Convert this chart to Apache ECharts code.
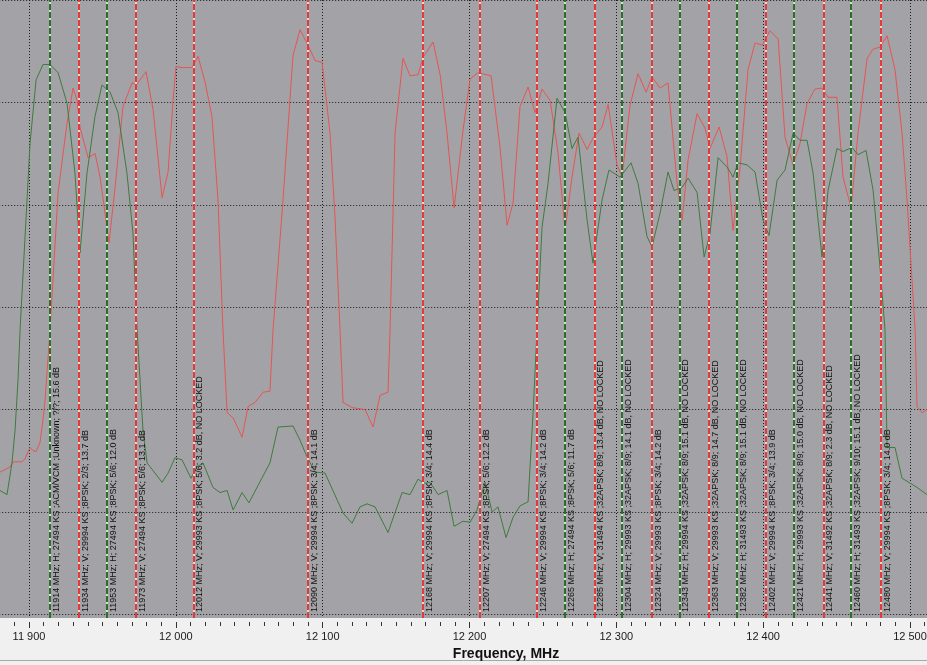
<!DOCTYPE html>
<html>
<head>
<meta charset="utf-8">
<script src="https://cdn.jsdelivr.net/npm/echarts@6/dist/echarts.min.js"></script>
<style>
html, body { margin: 0; padding: 0; background: #f0f0f0; }
#box { width: 927px; height: 665px; }
</style>
</head>
<body>
<div id="box"></div>
<script>
// V polarisation trace (red)
var vFreq = [11880.3,11887.1,11889.1,11895.2,11897.3,11900.7,11902.7,11904.8,11907.5,11909.5,11910.9,11914.3,11919.8,11925.9,11930.0,11932.7,11934.7,11940.2,11945.0,11948.4,11954.5,11958.6,11964.0,11970.2,11973.6,11979.7,11984.5,11990.6,11994.7,11998.1,12000.1,12004.2,12011.0,12015.1,12019.9,12024.6,12028.7,12032.1,12034.9,12039.0,12045.1,12049.2,12053.9,12059.4,12064.1,12066.2,12073.0,12079.8,12084.6,12089.3,12094.8,12099.6,12105.0,12108.4,12111.8,12113.9,12120.0,12128.9,12134.3,12139.1,12144.5,12145.9,12149.3,12154.7,12159.5,12164.9,12168.4,12175.2,12180.0,12184.7,12189.5,12195.6,12200.4,12205.8,12214.7,12220.8,12225.6,12229.7,12234.4,12239.9,12244.6,12249.4,12254.9,12260.3,12265.1,12269.8,12274.6,12280.1,12284.1,12290.3,12294.4,12300.5,12303.9,12309.3,12314.8,12320.3,12324.3,12329.8,12335.2,12341.4,12344.8,12348.9,12355.0,12360.4,12363.8,12370.0,12375.4,12379.5,12384.3,12389.7,12394.5,12399.3,12404.7,12410.2,12414.9,12420.4,12425.1,12429.9,12435.3,12440.1,12444.2,12450.3,12454.4,12459.9,12464.6,12470.8,12474.9,12479.6,12484.4,12489.8,12494.6,12498.0,12503.5,12504.8,12508.2,12511.6];
var vLevel = [-56.1,-55.6,-55.1,-55.1,-54.8,-53.7,-54.0,-54.1,-53.2,-51.0,-49.1,-42.2,-28.8,-22.0,-18.6,-19.8,-22.4,-25.4,-25.0,-27.3,-33.7,-28.3,-20.4,-18.1,-18.2,-17.0,-20.7,-29.3,-26.8,-19.8,-16.5,-16.6,-16.6,-15.5,-18.0,-21.4,-29.5,-42.2,-50.3,-50.8,-52.7,-49.7,-49.3,-48.3,-48.2,-42.2,-29.5,-15.4,-12.9,-14.2,-15.9,-16.1,-23.0,-31.2,-42.2,-49.3,-49.8,-50.0,-51.7,-48.6,-48.3,-42.2,-23.0,-15.7,-17.4,-17.3,-15.6,-14.1,-17.3,-23.0,-30.3,-22.7,-17.7,-17.1,-17.4,-24.4,-32.0,-29.8,-20.4,-18.5,-21.0,-18.7,-19.8,-24.9,-32.5,-27.3,-23.0,-24.6,-23.5,-22.4,-20.2,-26.1,-27.3,-20.3,-17.2,-19.0,-17.5,-18.6,-18.1,-27.9,-31.5,-25.6,-21.1,-22.5,-24.5,-22.4,-25.3,-32.5,-26.3,-16.8,-14.2,-14.4,-13.0,-13.8,-23.4,-26.1,-24.0,-20.1,-18.7,-18.6,-19.5,-19.5,-27.3,-30.3,-23.0,-15.7,-14.8,-14.6,-13.5,-16.8,-23.0,-29.5,-42.2,-49.7,-50.3,-50.0];

// H polarisation trace (green)
var hFreq = [11880.3,11885.0,11888.4,11890.5,11892.5,11893.9,11900.7,11904.8,11909.5,11914.3,11919.8,11925.9,11931.3,11934.7,11939.5,11944.9,11949.7,11955.2,11960.6,11966.7,11970.8,11973.6,11977.6,11980.4,11990.6,11994.7,11999.4,12004.2,12010.3,12014.4,12018.5,12025.3,12030.1,12034.9,12039.0,12045.1,12049.8,12056.0,12064.1,12069.6,12079.8,12084.6,12089.3,12094.8,12101.6,12113.9,12120.0,12125.4,12130.2,12135.7,12144.5,12154.1,12159.5,12164.9,12169.7,12173.1,12178.6,12184.7,12189.5,12195.6,12200.4,12205.1,12210.6,12215.4,12219.4,12224.9,12229.7,12234.4,12239.9,12243.3,12246.0,12249.4,12253.5,12259.6,12265.1,12269.8,12273.9,12280.1,12284.1,12290.3,12295.0,12302.5,12310.0,12314.8,12320.9,12324.3,12329.8,12335.2,12339.3,12344.8,12348.9,12355.0,12359.8,12363.8,12369.3,12375.4,12379.5,12382.9,12389.0,12394.5,12399.9,12404.0,12409.5,12414.9,12420.4,12425.1,12429.9,12434.0,12440.1,12444.2,12450.3,12454.4,12460.5,12464.6,12470.1,12474.9,12479.6,12483.0,12484.4,12489.8,12494.6,12504.8,12511.6];
var hLevel = [-57.9,-58.3,-55.2,-52.0,-47.1,-42.2,-24.0,-17.8,-16.3,-16.3,-17.1,-20.1,-26.9,-34.7,-26.9,-21.4,-18.3,-19.0,-21.0,-26.9,-32.8,-42.2,-52.0,-55.2,-57.1,-56.2,-54.7,-54.9,-56.7,-55.6,-55.2,-57.6,-58.1,-57.9,-59.8,-58.1,-59.1,-57.4,-55.2,-51.7,-51.6,-53.0,-54.6,-56.1,-56.2,-60.1,-61.1,-59.5,-59.2,-59.5,-62.0,-58.1,-58.3,-56.8,-57.2,-57.1,-58.3,-57.9,-61.4,-60.9,-61.0,-59.8,-57.1,-60.0,-59.5,-62.5,-60.5,-59.4,-59.0,-50.3,-42.2,-32.2,-27.9,-19.6,-21.0,-24.5,-23.4,-31.5,-35.7,-29.5,-26.6,-27.3,-25.9,-27.9,-33.1,-34.1,-30.8,-26.8,-28.6,-28.3,-27.4,-28.8,-35.1,-32.8,-25.4,-26.3,-27.3,-25.9,-26.1,-26.8,-31.5,-33.0,-27.6,-26.6,-23.0,-23.7,-23.7,-26.9,-35.1,-28.6,-24.5,-24.8,-24.4,-25.1,-24.7,-28.6,-36.1,-42.2,-53.7,-53.7,-56.7,-57.6,-58.3];

// transponder markers
var markFreq = [11914,11934,11953,11973,12012,12090,12168,12207,12246,12265,12285,12304,12324,12343,12363,12382,12402,12421,12441,12460,12480];
var markPol = ['H','V','H','V','V','V','V','V','V','H','V','H','V','H','V','H','V','H','V','H','V'];
var markText = [
  '11914 MHz; H; 27494 KS ;ACM/VCM ;Unknown; ?/?; 15.6 dB',
  '11934 MHz; V; 29994 KS ;8PSK; 2/3; 13.7 dB',
  '11953 MHz; H; 27494 KS ;8PSK; 5/6; 12.0 dB',
  '11973 MHz; V; 27494 KS ;8PSK; 5/6; 13.1 dB',
  '12012 MHz; V; 29993 KS ;8PSK; 5/6; 3.2 dB, NO LOCKED',
  '12090 MHz; V; 29994 KS ;8PSK; 3/4; 14.1 dB',
  '12168 MHz; V; 29994 KS ;8PSK; 3/4; 14.4 dB',
  '12207 MHz; V; 27494 KS ;8PSK; 5/6; 12.2 dB',
  '12246 MHz; V; 29994 KS ;8PSK; 3/4; 14.2 dB',
  '12265 MHz; H; 27494 KS ;8PSK; 5/6; 11.7 dB',
  '12285 MHz; V; 31494 KS ;32APSK; 8/9; 13.4 dB, NO LOCKED',
  '12304 MHz; H; 29993 KS ;32APSK; 8/9; 14.1 dB, NO LOCKED',
  '12324 MHz; V; 29993 KS ;8PSK; 3/4; 14.2 dB',
  '12343 MHz; H; 29994 KS ;32APSK; 8/9; 15.1 dB, NO LOCKED',
  '12363 MHz; V; 29993 KS ;32APSK; 8/9; 14.7 dB, NO LOCKED',
  '12382 MHz; H; 31493 KS ;32APSK; 8/9; 15.1 dB, NO LOCKED',
  '12402 MHz; V; 29994 KS ;8PSK; 3/4; 13.9 dB',
  '12421 MHz; H; 29993 KS ;32APSK; 8/9; 15.0 dB, NO LOCKED',
  '12441 MHz; V; 31492 KS ;32APSK; 8/9; 2.3 dB, NO LOCKED',
  '12460 MHz; H; 31493 KS ;32APSK; 9/10; 15.1 dB, NO LOCKED',
  '12480 MHz; V; 29994 KS ;8PSK; 3/4; 14.0 dB'
];

function pairs(xs, ys) {
  var out = [];
  for (var i = 0; i < xs.length; i++) out.push([xs[i], ys[i]]);
  return out;
}

// each marker = light solid line under a coloured dashed one
var marks = [];
for (var i = 0; i < markFreq.length; i++) {
  var isH = markPol[i] == 'H';
  marks.push({
    xAxis: markFreq[i],
    lineStyle: { color: isH ? '#d2e2d2' : '#f2d2d2', type: 'solid', width: 2 },
    label: { show: false }
  });
  marks.push({
    xAxis: markFreq[i],
    lineStyle: { color: isH ? '#2c6e2c' : '#e23a3a', type: [6, 2], width: 2 },
    label: {
      show: true,
      formatter: markText[i],
      position: 'insideStartBottom',
      distance: [6, 2],
      color: '#111',
      fontSize: 9,
      fontFamily: 'Liberation Sans'
    }
  });
}

var myChart = echarts.init(document.getElementById('box'));
var option = {
  animation: false,
  backgroundColor: '#f0f0f0',
  grid: {
    left: -117.8,
    right: -129.8,
    top: 0,
    bottom: 47,
    outerBoundsMode: 'none',
    containLabel: false,
    show: true,
    backgroundColor: '#a3a3a7',
    borderWidth: 0
  },
  xAxis: {
    type: 'value',
    min: 11800,
    max: 12600,
    interval: 100,
    offset: 4,
    name: 'Frequency, MHz',
    nameLocation: 'middle',
    nameGap: 22,
    nameTextStyle: {
      fontFamily: 'Liberation Sans',
      fontSize: 14,
      fontWeight: 'bold',
      color: '#111',
      padding: [0, 0, 0, 73]
    },
    axisLine: { show: false },
    axisTick: { show: true, length: 6, lineStyle: { color: '#333' } },
    minorTick: { show: true, splitNumber: 10, length: 4, lineStyle: { color: '#333' } },
    axisLabel: {
      margin: 9,
      fontFamily: 'Liberation Sans',
      fontSize: 11,
      color: '#1a1a1a',
      formatter: function (v) {
        var k = Math.floor(v / 1000);
        var r = String(v % 1000);
        while (r.length < 3) r = '0' + r;
        return k + ' ' + r;
      }
    },
    splitLine: { show: true, lineStyle: { type: [1, 2], color: '#1a1a1a', width: 1 } }
  },
  yAxis: {
    type: 'value',
    min: -70.35,
    max: -10,
    splitNumber: 6,
    axisLine: { show: false },
    axisTick: { show: false },
    axisLabel: { show: false },
    splitLine: { show: true, showMinLine: false, lineStyle: { type: [1, 2], color: '#1a1a1a', width: 1 } }
  },
  series: [
    {
      name: 'markers',
      type: 'line',
      data: [],
      z: 1,
      silent: true,
      markLine: { silent: true, symbol: ['none', 'none'], animation: false, data: marks }
    },
    {
      name: 'V',
      type: 'line',
      data: pairs(vFreq, vLevel),
      z: 3,
      showSymbol: false,
      lineStyle: { color: '#e65454', width: 1 }
    },
    {
      name: 'H',
      type: 'line',
      data: pairs(hFreq, hLevel),
      z: 3,
      showSymbol: false,
      lineStyle: { color: '#3f7a3f', width: 1 }
    }
  ],
  graphic: [
    { type: 'line', shape: { x1: 0, y1: 660.5, x2: 927, y2: 660.5 }, style: { stroke: '#a8a8a8', lineWidth: 1 } }
  ]
};
option && myChart.setOption(option);
</script>
</body>
</html>
